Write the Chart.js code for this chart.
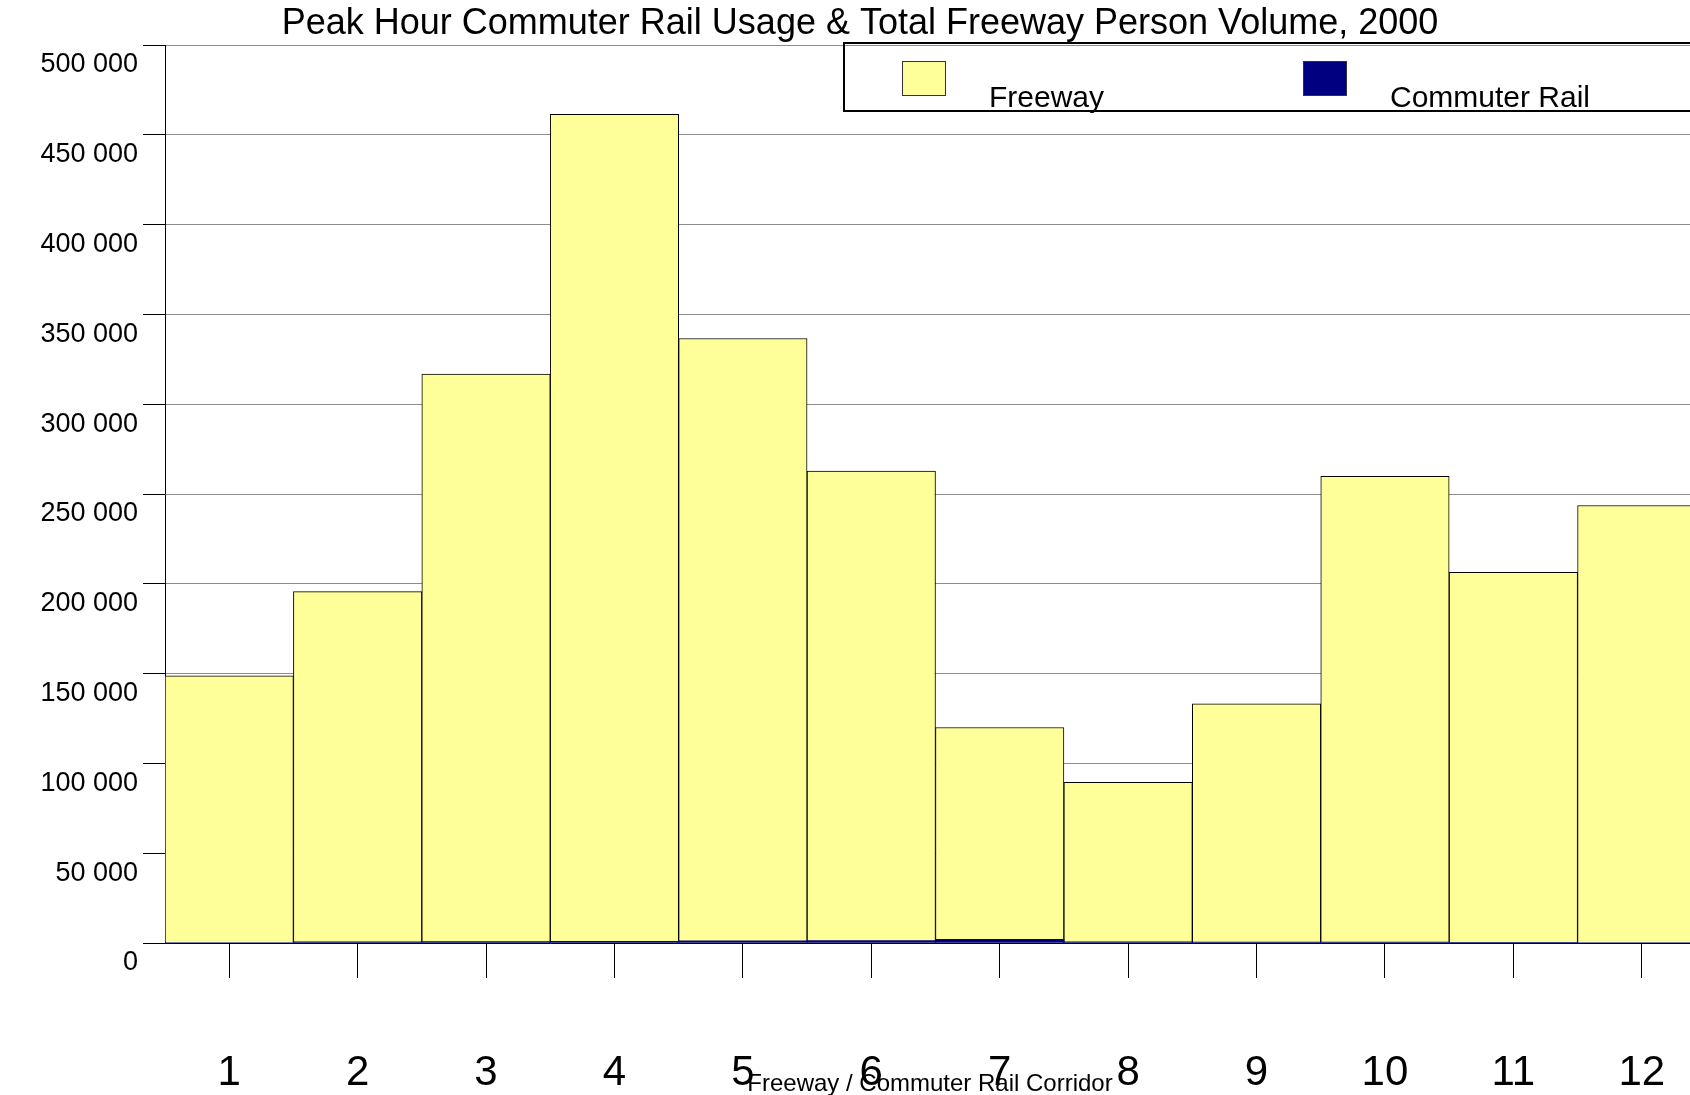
<!doctype html>
<html lang="en">
<head>
<meta charset="utf-8">
<title>Peak Hour Commuter Rail & Freeway Volume</title>
<style>
  html, body { margin: 0; padding: 0; background: #fff; overflow: hidden; }
  #myChart { display: block; }
</style>
</head>
<body>
<canvas id="myChart" width="1720" height="1095"></canvas>
<script src="https://cdn.jsdelivr.net/npm/chart.js"></script>
<script>
// data
var categories = ['1', '2', '3', '4', '5', '6', '7', '8', '9', '10', '11', '12'];
var freeway = [148800, 195600, 316800, 461400, 336600, 262800, 120000, 89400, 133200, 259800, 206400, 243600];
var commuterRail = [300, 700, 800, 900, 1200, 1300, 2100, 600, 500, 500, 400, 300];
var seriesNames = ['Freeway', 'Commuter Rail'];
var yTicks = [0, 50000, 100000, 150000, 200000, 250000, 300000, 350000, 400000, 450000, 500000];
var chartTitle = 'Peak Hour Commuter Rail Usage & Total Freeway Person Volume, 2000';
var xTitle = 'Freeway / Commuter Rail Corridor';

function spaced(v) {
  return String(v).replace(/\B(?=(\d{3})+(?!\d))/g, ' ');
}

var textFont = '"Liberation Sans", Arial, sans-serif';

// title, axis title and the boxed legend are drawn here
var extras = {
  id: 'extras',
  afterDraw: function(chart) {
    var ctx = chart.ctx;
    ctx.save();
    ctx.fillStyle = '#000';
    ctx.textBaseline = 'alphabetic';

    ctx.font = '36px ' + textFont;
    ctx.textAlign = 'center';
    ctx.fillText(chartTitle, 860, 34);

    ctx.font = '24px ' + textFont;
    ctx.fillText(xTitle, 930, 1091);

    // legend box
    ctx.lineWidth = 2;
    ctx.strokeStyle = '#000';
    ctx.strokeRect(844, 43, 900, 68);

    var ds = chart.data.datasets;
    var swatchX = [902, 1303];
    var textX = [989, 1390];
    ctx.font = '30px ' + textFont;
    ctx.textAlign = 'left';
    for (var i = 0; i < 2; i++) {
      var d = ds[i === 0 ? 1 : 0];
      ctx.fillStyle = d.backgroundColor;
      ctx.fillRect(swatchX[i], 61, 44, 35);
      ctx.lineWidth = 1;
      ctx.strokeStyle = '#333';
      ctx.strokeRect(swatchX[i] + 0.5, 61.5, 43, 34);
      ctx.fillStyle = '#000';
      ctx.fillText(d.label, textX[i], 107);
    }
    ctx.restore();
  }
};

var ctx = document.getElementById('myChart').getContext('2d');
new Chart(ctx, {
  type: 'bar',
  data: {
    labels: categories,
    datasets: [{
      label: seriesNames[1],
      data: commuterRail,
      backgroundColor: '#000080',
      borderWidth: 0,
      order: 1
    }, {
      label: seriesNames[0],
      data: freeway,
      backgroundColor: '#FFFF99',
      borderColor: '#000000',
      borderWidth: 1,
      order: 2
    }]
  },
  options: {
    responsive: false,
    animation: false,
    events: [],
    layout: { padding: { top: 45, right: 14, left: 0, bottom: 0 } },
    datasets: {
      bar: { barPercentage: 1, categoryPercentage: 1, grouped: false }
    },
    plugins: {
      legend: { display: false },
      title: { display: false },
      tooltip: { enabled: false }
    },
    scales: {
      x: {
        afterFit: function(scale) {
          scale.height = 152;
          // the big label padding should not eat into the plot width
          scale.paddingLeft = 0;
          scale.paddingRight = 0;
        },
        grid: {
          display: true,
          drawOnChartArea: false,
          offset: false,
          tickLength: 35,
          color: '#000',
          tickColor: '#000'
        },
        border: { display: true, color: '#000', width: 1 },
        ticks: {
          maxRotation: 0,
          padding: 70,
          color: '#000',
          font: { family: textFont, size: 42 }
        }
      },
      y: {
        min: 0,
        max: 500000,
        afterFit: function(scale) { scale.width = 165; },
        afterBuildTicks: function(scale) {
          scale.ticks = yTicks.map(function(v) { return { value: v }; });
        },
        grid: {
          color: '#8c8c8c',
          tickColor: '#000',
          tickLength: 22,
          lineWidth: 1
        },
        border: { display: true, color: '#000', width: 1 },
        ticks: {
          padding: 5,
          labelOffset: 20,
          color: '#000',
          font: { family: textFont, size: 27 },
          callback: function(v) { return spaced(v); }
        }
      }
    }
  },
  plugins: [extras]
});
</script>
</body>
</html>
